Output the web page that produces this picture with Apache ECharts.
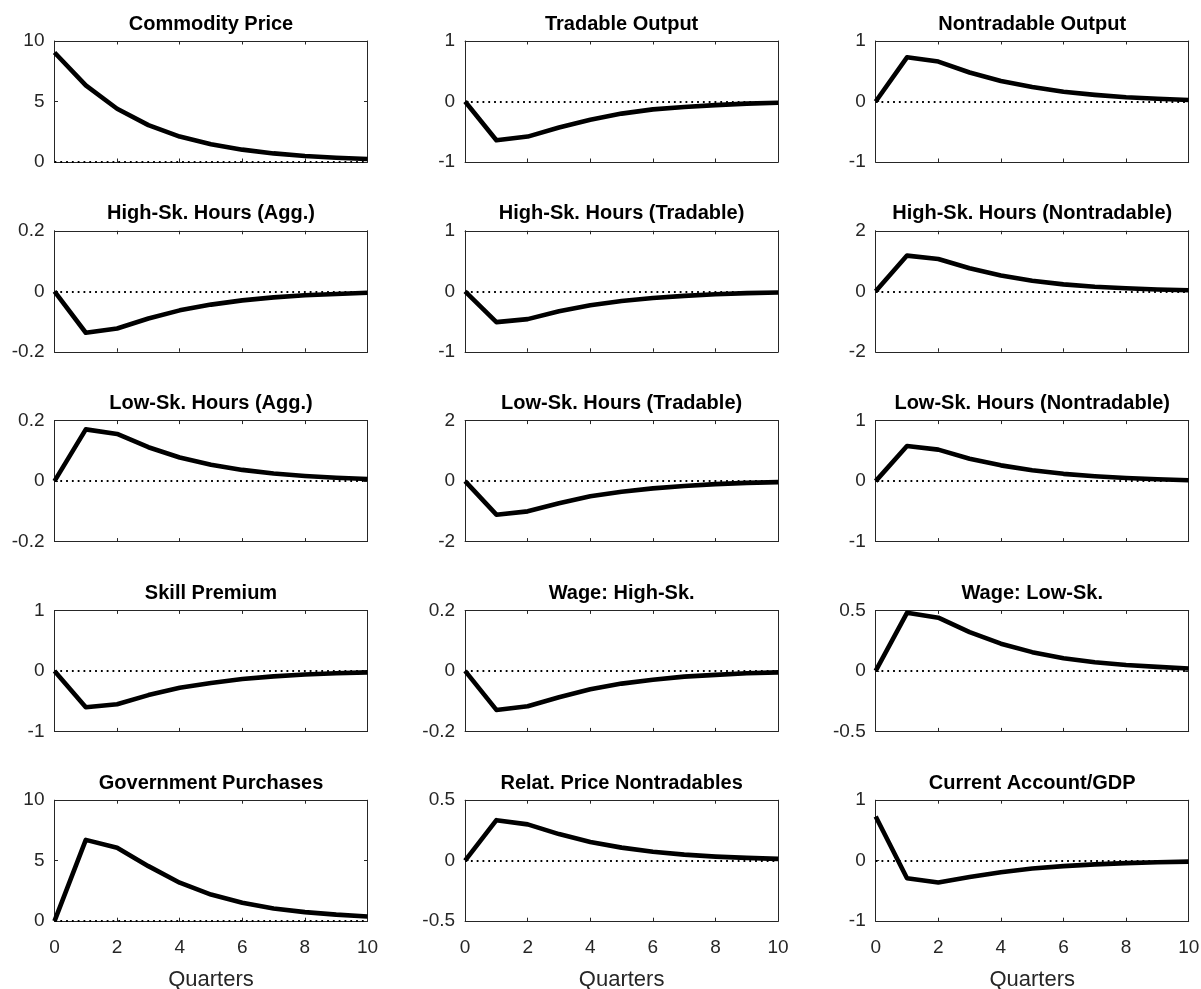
<!DOCTYPE html>
<html><head><meta charset="utf-8">
<script src="https://cdn.jsdelivr.net/npm/echarts@6/dist/echarts.min.js"></script>
<style>html,body{margin:0;padding:0;background:#fff}#c{width:1201px;height:989px}</style>
</head><body><div id="c"></div>
<script>
// ---- data ----
const quarters = [0,1,2,3,4,5,6,7,8,9,10];
const xTickStep = 2;

const panelTitles = [
  'Commodity Price', 'Tradable Output', 'Nontradable Output',
  'High-Sk. Hours (Agg.)', 'High-Sk. Hours (Tradable)', 'High-Sk. Hours (Nontradable)',
  'Low-Sk. Hours (Agg.)', 'Low-Sk. Hours (Tradable)', 'Low-Sk. Hours (Nontradable)',
  'Skill Premium', 'Wage: High-Sk.', 'Wage: Low-Sk.',
  'Government Purchases', 'Relat. Price Nontradables', 'Current Account/GDP'
];

const commodityPrice      = [9.05, 6.33, 4.40, 3.05, 2.10, 1.47, 1.02, 0.71, 0.50, 0.35, 0.25];
const tradableOutput      = [0, -0.64, -0.58, -0.43, -0.30, -0.20, -0.13, -0.09, -0.06, -0.035, -0.02];
const nontradableOutput   = [0, 0.73, 0.66, 0.48, 0.34, 0.24, 0.16, 0.11, 0.07, 0.045, 0.025];
const hsHoursAgg          = [0, -0.137, -0.123, -0.090, -0.063, -0.044, -0.030, -0.020, -0.013, -0.009, -0.005];
const hsHoursTradable     = [0, -0.51, -0.46, -0.33, -0.23, -0.16, -0.11, -0.075, -0.05, -0.03, -0.02];
const hsHoursNontradable  = [0, 1.18, 1.07, 0.76, 0.52, 0.35, 0.23, 0.15, 0.10, 0.06, 0.035];
const lsHoursAgg          = [0, 0.171, 0.156, 0.112, 0.078, 0.054, 0.037, 0.025, 0.017, 0.011, 0.007];
const lsHoursTradable     = [0, -1.11, -1.00, -0.73, -0.50, -0.35, -0.24, -0.16, -0.10, -0.06, -0.035];
const lsHoursNontradable  = [0, 0.58, 0.52, 0.37, 0.26, 0.18, 0.12, 0.08, 0.05, 0.03, 0.015];
const skillPremium        = [0, -0.60, -0.55, -0.40, -0.28, -0.20, -0.135, -0.09, -0.06, -0.04, -0.025];
const wageHighSk          = [0, -0.129, -0.117, -0.087, -0.061, -0.042, -0.029, -0.019, -0.013, -0.008, -0.005];
const wageLowSk           = [0, 0.48, 0.44, 0.32, 0.225, 0.155, 0.105, 0.072, 0.049, 0.033, 0.02];
const govPurchases        = [0, 6.72, 6.07, 4.55, 3.18, 2.20, 1.52, 1.05, 0.75, 0.54, 0.39];
const relPriceNontradable = [0, 0.335, 0.30, 0.22, 0.155, 0.108, 0.074, 0.05, 0.034, 0.023, 0.015];
const currentAccountGDP   = [0.73, -0.29, -0.36, -0.27, -0.19, -0.13, -0.09, -0.06, -0.04, -0.025, -0.015];

const panelSeries = [
  commodityPrice, tradableOutput, nontradableOutput,
  hsHoursAgg, hsHoursTradable, hsHoursNontradable,
  lsHoursAgg, lsHoursTradable, lsHoursNontradable,
  skillPremium, wageHighSk, wageLowSk,
  govPurchases, relPriceNontradable, currentAccountGDP
];
const yMin  = [0, -1, -1, -0.2, -1, -2, -0.2, -2, -1, -1, -0.2, -0.5, 0, -0.5, -1];
const yMax  = [10, 1, 1, 0.2, 1, 2, 0.2, 2, 1, 1, 0.2, 0.5, 10, 0.5, 1];
const yStep = [5, 1, 1, 0.2, 1, 2, 0.2, 2, 1, 1, 0.2, 0.5, 5, 0.5, 1];
const xAxisTitle = 'Quarters';

// ---- layout ----
const FONT = "'Liberation Sans', Arial, Helvetica, sans-serif";
const AX = '#262626';
const L0 = 54.5, CSTEP = 410.6, W = 313;
const T0 = 41, RSTEP = 189.8, H = 121;

const grid = [], xAxis = [], yAxis = [], series = [], title = [];
panelSeries.forEach((vals, i) => {
  const r = Math.floor(i / 3), c = i % 3;
  const left = L0 + c * CSTEP, top = T0 + r * RSTEP;
  grid.push({left: left, top: top, width: W, height: H, containLabel: false, outerBoundsMode: 'none'});
  title.push({
    text: panelTitles[i], left: left + W / 2, top: top - 17,
    textAlign: 'center', textVerticalAlign: 'middle', padding: 0,
    textStyle: {fontFamily: FONT, fontSize: 20, fontWeight: 'bold', color: '#000'}
  });
  const lastRow = r === 4;
  const axLine = {show: true, onZero: false, lineStyle: {color: AX, width: 1}};
  const tick = {show: true, inside: true, length: 3.5, lineStyle: {color: AX, width: 1}};
  xAxis.push({
    type: 'value', gridIndex: i, position: 'bottom', min: 0, max: 10, interval: xTickStep,
    axisLine: axLine, axisTick: tick, splitLine: {show: false},
    axisLabel: {show: lastRow, margin: 17, color: AX, fontFamily: FONT, fontSize: 19},
    name: lastRow ? xAxisTitle : '', nameLocation: 'middle', nameGap: 48,
    nameTextStyle: {color: AX, fontFamily: FONT, fontSize: 22}
  });
  xAxis.push({
    type: 'value', gridIndex: i, position: 'top', min: 0, max: 10, interval: xTickStep,
    axisLine: axLine, axisTick: tick, splitLine: {show: false}, axisLabel: {show: false}
  });
  yAxis.push({
    type: 'value', gridIndex: i, position: 'left', min: yMin[i], max: yMax[i], interval: yStep[i],
    axisLine: axLine, axisTick: tick, splitLine: {show: false},
    axisLabel: {show: true, margin: 10, color: AX, fontFamily: FONT, fontSize: 19}
  });
  yAxis.push({
    type: 'value', gridIndex: i, position: 'right', min: yMin[i], max: yMax[i], interval: yStep[i],
    axisLine: axLine, axisTick: tick, splitLine: {show: false}, axisLabel: {show: false}
  });
  series.push({
    type: 'line', xAxisIndex: 2 * i, yAxisIndex: 2 * i,
    data: quarters.map((q, k) => [q, vals[k]]),
    showSymbol: false, symbol: 'none', silent: true, z: 3,
    lineStyle: {color: '#000', width: 4.6, join: 'round'},
    markLine: {
      silent: true, symbol: 'none', label: {show: false}, z: 2,
      lineStyle: {color: '#000', width: 1.8, type: [1.8, 4]},
      data: [{yAxis: 0}]
    }
  });
});

const chart = echarts.init(document.getElementById('c'), null, {renderer: 'canvas'});
chart.setOption({
  animation: false, backgroundColor: '#fff',
  title: title, grid: grid, xAxis: xAxis, yAxis: yAxis, series: series
});
</script>
</body></html>
